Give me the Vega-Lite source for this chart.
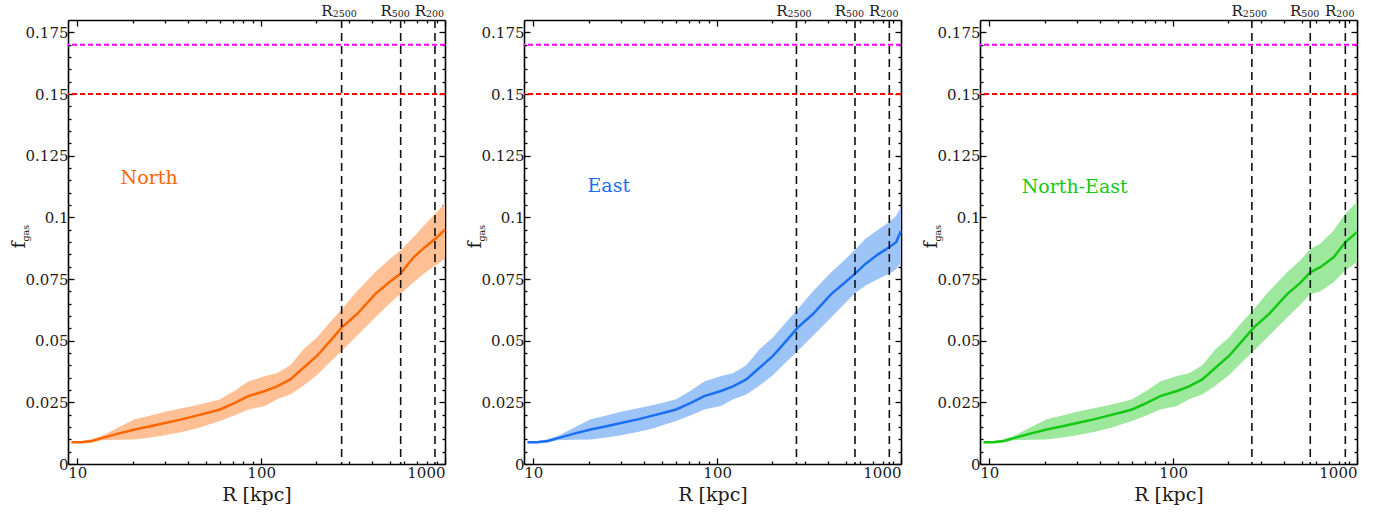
{
  "$schema": "https://vega.github.io/schema/vega-lite/v6.json",
  "padding": {"left": 10, "top": 4, "right": 5, "bottom": 5},
  "autosize": {"type": "pad"},
  "background": "white",
  "datasets": {
    "north": [
      {"R": 9.3, "f": 0.0088, "lo": 0.0084, "hi": 0.0092},
      {"R": 10.5, "f": 0.0088, "lo": 0.0084, "hi": 0.0093},
      {"R": 12.0, "f": 0.0093, "lo": 0.0087, "hi": 0.0100},
      {"R": 13.6, "f": 0.0105, "lo": 0.0096, "hi": 0.0114},
      {"R": 16.5, "f": 0.0122, "lo": 0.0098, "hi": 0.0146},
      {"R": 20.5, "f": 0.0140, "lo": 0.0099, "hi": 0.0181},
      {"R": 25, "f": 0.0153, "lo": 0.0107, "hi": 0.0197},
      {"R": 30, "f": 0.0166, "lo": 0.0117, "hi": 0.0212},
      {"R": 37, "f": 0.0181, "lo": 0.0130, "hi": 0.0226},
      {"R": 45.6, "f": 0.0198, "lo": 0.0146, "hi": 0.0240},
      {"R": 52, "f": 0.0209, "lo": 0.0160, "hi": 0.0250},
      {"R": 59.8, "f": 0.0221, "lo": 0.0174, "hi": 0.0262},
      {"R": 72, "f": 0.0248, "lo": 0.0198, "hi": 0.0298},
      {"R": 85, "f": 0.0275, "lo": 0.0221, "hi": 0.0334},
      {"R": 105, "f": 0.0296, "lo": 0.0235, "hi": 0.0357},
      {"R": 122, "f": 0.0315, "lo": 0.0262, "hi": 0.0368},
      {"R": 144, "f": 0.0343, "lo": 0.0282, "hi": 0.0400},
      {"R": 170, "f": 0.0390, "lo": 0.0318, "hi": 0.0465},
      {"R": 201, "f": 0.0438, "lo": 0.0360, "hi": 0.0513},
      {"R": 235, "f": 0.0495, "lo": 0.0410, "hi": 0.0572},
      {"R": 275, "f": 0.0554, "lo": 0.0459, "hi": 0.0628},
      {"R": 332, "f": 0.0608, "lo": 0.0520, "hi": 0.0700},
      {"R": 417, "f": 0.0689, "lo": 0.0594, "hi": 0.0777},
      {"R": 490, "f": 0.0733, "lo": 0.0645, "hi": 0.0825},
      {"R": 571, "f": 0.0771, "lo": 0.0689, "hi": 0.0866},
      {"R": 675, "f": 0.0838, "lo": 0.0737, "hi": 0.0920},
      {"R": 780, "f": 0.0880, "lo": 0.0775, "hi": 0.0972},
      {"R": 885, "f": 0.0913, "lo": 0.0805, "hi": 0.1015},
      {"R": 1000, "f": 0.0950, "lo": 0.0832, "hi": 0.1058}
    ],
    "east": [
      {"R": 9.3, "f": 0.0088, "lo": 0.0084, "hi": 0.0092},
      {"R": 10.5, "f": 0.0088, "lo": 0.0084, "hi": 0.0093},
      {"R": 12.0, "f": 0.0093, "lo": 0.0087, "hi": 0.0100},
      {"R": 13.6, "f": 0.0105, "lo": 0.0096, "hi": 0.0114},
      {"R": 16.5, "f": 0.0122, "lo": 0.0098, "hi": 0.0146},
      {"R": 20.5, "f": 0.0140, "lo": 0.0099, "hi": 0.0181},
      {"R": 25, "f": 0.0153, "lo": 0.0107, "hi": 0.0197},
      {"R": 30, "f": 0.0166, "lo": 0.0117, "hi": 0.0212},
      {"R": 37, "f": 0.0181, "lo": 0.0130, "hi": 0.0226},
      {"R": 45.6, "f": 0.0198, "lo": 0.0146, "hi": 0.0240},
      {"R": 52, "f": 0.0209, "lo": 0.0160, "hi": 0.0250},
      {"R": 59.8, "f": 0.0221, "lo": 0.0174, "hi": 0.0262},
      {"R": 72, "f": 0.0248, "lo": 0.0198, "hi": 0.0298},
      {"R": 85, "f": 0.0275, "lo": 0.0221, "hi": 0.0334},
      {"R": 105, "f": 0.0296, "lo": 0.0235, "hi": 0.0357},
      {"R": 122, "f": 0.0315, "lo": 0.0262, "hi": 0.0368},
      {"R": 144, "f": 0.0343, "lo": 0.0282, "hi": 0.0400},
      {"R": 170, "f": 0.0390, "lo": 0.0318, "hi": 0.0465},
      {"R": 201, "f": 0.0438, "lo": 0.0360, "hi": 0.0513},
      {"R": 235, "f": 0.0495, "lo": 0.0410, "hi": 0.0572},
      {"R": 275, "f": 0.0554, "lo": 0.0459, "hi": 0.0628},
      {"R": 332, "f": 0.0608, "lo": 0.0520, "hi": 0.0700},
      {"R": 417, "f": 0.0689, "lo": 0.0594, "hi": 0.0777},
      {"R": 490, "f": 0.0733, "lo": 0.0648, "hi": 0.0825},
      {"R": 561, "f": 0.0771, "lo": 0.0692, "hi": 0.0868},
      {"R": 640, "f": 0.0811, "lo": 0.0723, "hi": 0.0913},
      {"R": 750, "f": 0.0850, "lo": 0.0750, "hi": 0.0950},
      {"R": 863, "f": 0.0879, "lo": 0.0771, "hi": 0.0981},
      {"R": 940, "f": 0.0899, "lo": 0.0790, "hi": 0.1005},
      {"R": 1000, "f": 0.0945, "lo": 0.0818, "hi": 0.1042}
    ],
    "northeast": [
      {"R": 9.3, "f": 0.0088, "lo": 0.0084, "hi": 0.0092},
      {"R": 10.5, "f": 0.0088, "lo": 0.0084, "hi": 0.0093},
      {"R": 12.0, "f": 0.0093, "lo": 0.0087, "hi": 0.0100},
      {"R": 13.6, "f": 0.0105, "lo": 0.0096, "hi": 0.0114},
      {"R": 16.5, "f": 0.0122, "lo": 0.0098, "hi": 0.0146},
      {"R": 20.5, "f": 0.0140, "lo": 0.0099, "hi": 0.0181},
      {"R": 25, "f": 0.0153, "lo": 0.0107, "hi": 0.0197},
      {"R": 30, "f": 0.0166, "lo": 0.0117, "hi": 0.0212},
      {"R": 37, "f": 0.0181, "lo": 0.0130, "hi": 0.0226},
      {"R": 45.6, "f": 0.0198, "lo": 0.0146, "hi": 0.0240},
      {"R": 52, "f": 0.0209, "lo": 0.0160, "hi": 0.0250},
      {"R": 59.8, "f": 0.0221, "lo": 0.0174, "hi": 0.0262},
      {"R": 72, "f": 0.0248, "lo": 0.0198, "hi": 0.0298},
      {"R": 85, "f": 0.0275, "lo": 0.0221, "hi": 0.0334},
      {"R": 105, "f": 0.0296, "lo": 0.0235, "hi": 0.0357},
      {"R": 122, "f": 0.0315, "lo": 0.0262, "hi": 0.0368},
      {"R": 144, "f": 0.0343, "lo": 0.0282, "hi": 0.0400},
      {"R": 170, "f": 0.0390, "lo": 0.0318, "hi": 0.0465},
      {"R": 201, "f": 0.0438, "lo": 0.0360, "hi": 0.0513},
      {"R": 235, "f": 0.0495, "lo": 0.0410, "hi": 0.0572},
      {"R": 275, "f": 0.0554, "lo": 0.0459, "hi": 0.0628},
      {"R": 332, "f": 0.0608, "lo": 0.0520, "hi": 0.0700},
      {"R": 417, "f": 0.0689, "lo": 0.0594, "hi": 0.0777},
      {"R": 490, "f": 0.0733, "lo": 0.0645, "hi": 0.0825},
      {"R": 557, "f": 0.0777, "lo": 0.0689, "hi": 0.0872},
      {"R": 631, "f": 0.0798, "lo": 0.0699, "hi": 0.0893},
      {"R": 746, "f": 0.0838, "lo": 0.0737, "hi": 0.0947},
      {"R": 863, "f": 0.0899, "lo": 0.0784, "hi": 0.1015},
      {"R": 1000, "f": 0.0940, "lo": 0.0818, "hi": 0.1062}
    ],
    "baryon": [
      {"fb": 0.17, "ref": "universal"},
      {"fb": 0.15, "ref": "cluster"}
    ],
    "radii_north": [
      {"R": 274, "sub": "2500"},
      {"R": 574, "sub": "500"},
      {"R": 882, "sub": "200"}
    ],
    "radii_east": [
      {"R": 270, "sub": "2500"},
      {"R": 562, "sub": "500"},
      {"R": 864, "sub": "200"}
    ],
    "radii_northeast": [
      {"R": 268, "sub": "2500"},
      {"R": 557, "sub": "500"},
      {"R": 864, "sub": "200"}
    ]
  },
  "config": {
    "view": {"stroke": null},
    "axis": {
      "grid": false,
      "domainColor": "#000000",
      "domainWidth": 1.6,
      "tickColor": "#000000",
      "tickWidth": 1.3,
      "labelFont": "DejaVu Serif",
      "labelFontSize": 15,
      "labelColor": "#1a1a1a",
      "titleFont": "DejaVu Serif",
      "titleFontSize": 19,
      "titleFontWeight": "normal",
      "titleColor": "#1a1a1a"
    },
    "text": {"font": "DejaVu Serif", "color": "#1a1a1a"}
  },
  "bounds": "flush",
  "spacing": 79,
  "hconcat": [
    {
      "width": 377,
      "height": 444,
      "resolve": {"axis": {"x": "independent", "y": "independent"}},
      "layer": [
        {
          "data": {"name": "north"},
          "mark": {"type": "area", "color": "#ffc096", "opacity": 1},
          "encoding": {
            "x": {"field": "R", "type": "quantitative", "scale": {"type": "log", "domain": [8.9, 1000], "nice": false},
              "axis": {"orient": "bottom", "values": [10,20,30,40,50,60,70,80,90,100,200,300,400,500,600,700,800,900,1000],
                "labelExpr": "datum.value == 10 || datum.value == 100 || datum.value == 1000 ? format(datum.value, 'd') : ''",
                "tickSize": {"condition": {"test": "datum.value == 10 || datum.value == 100 || datum.value == 1000", "value": -6}, "value": -3},
                "labelOverlap": false, "labelFlush": true, "labelPadding": 7, "title": "R [kpc]", "titlePadding": 2}},
            "y": {"field": "lo", "type": "quantitative", "scale": {"domain": [0, 0.18], "nice": false, "zero": true},
              "axis": {"orient": "left", "values": [0,0.005,0.01,0.015,0.02,0.025,0.03,0.035,0.04,0.045,0.05,0.055,0.06,0.065,0.07,0.075,0.08,0.085,0.09,0.095,0.1,0.105,0.11,0.115,0.12,0.125,0.13,0.135,0.14,0.145,0.15,0.155,0.16,0.165,0.17,0.175],
                "labelExpr": "abs(datum.value * 40 - round(datum.value * 40)) < 0.001 ? format(datum.value, '.3~f') : ''",
                "tickSize": {"condition": {"test": "abs(datum.value * 40 - round(datum.value * 40)) < 0.001", "value": -6}, "value": -3},
                "labelOverlap": false, "labelPadding": 6, "title": null}},
            "y2": {"field": "hi"}
          }
        },
        {
          "data": {"name": "north"},
          "mark": {"type": "line", "color": "#ff6600", "strokeWidth": 2.5},
          "encoding": {
            "x": {"field": "R", "type": "quantitative", "scale": {"type": "log", "domain": [8.9, 1000], "nice": false},
              "axis": {"orient": "top", "values": [10,20,30,40,50,60,70,80,90,100,200,300,400,500,600,700,800,900,1000],
                "labels": false,
                "tickSize": {"condition": {"test": "datum.value == 10 || datum.value == 100 || datum.value == 1000", "value": -6}, "value": -3},
                "title": null}},
            "y": {"field": "f", "type": "quantitative", "scale": {"domain": [0, 0.18], "nice": false, "zero": true},
              "axis": {"orient": "right", "values": [0,0.005,0.01,0.015,0.02,0.025,0.03,0.035,0.04,0.045,0.05,0.055,0.06,0.065,0.07,0.075,0.08,0.085,0.09,0.095,0.1,0.105,0.11,0.115,0.12,0.125,0.13,0.135,0.14,0.145,0.15,0.155,0.16,0.165,0.17,0.175],
                "labels": false,
                "tickSize": {"condition": {"test": "abs(datum.value * 40 - round(datum.value * 40)) < 0.001", "value": -6}, "value": -3},
                "title": null}}
          }
        },
        {
          "data": {"name": "baryon"},
          "mark": {"type": "rule", "strokeWidth": 2, "strokeDash": [5, 3]},
          "encoding": {
            "y": {"field": "fb", "type": "quantitative", "axis": null},
            "color": {"field": "ref", "type": "nominal", "scale": {"domain": ["universal", "cluster"], "range": ["#ff00ff", "#ff0000"]}, "legend": null}
          }
        },
        {
          "data": {"name": "radii_north"},
          "mark": {"type": "rule", "color": "#111111", "strokeWidth": 1.6, "strokeDash": [8, 5]},
          "encoding": {"x": {"field": "R", "type": "quantitative", "axis": null}}
        },
        {
          "data": {"name": "radii_north"},
          "mark": {"type": "text", "text": "R", "fontSize": 15, "align": "right", "baseline": "alphabetic", "dx": -9, "dy": -4},
          "encoding": {"x": {"field": "R", "type": "quantitative", "axis": null}, "y": {"datum": 0.18, "axis": null}}
        },
        {
          "data": {"name": "radii_north"},
          "mark": {"type": "text", "fontSize": 9.5, "align": "left", "baseline": "alphabetic", "dx": -9, "dy": -3},
          "encoding": {"text": {"field": "sub"}, "x": {"field": "R", "type": "quantitative", "axis": null}, "y": {"datum": 0.18, "axis": null}}
        },
        {
          "data": {"values": [{"dir": "North"}]},
          "mark": {"type": "text", "fontSize": 19, "align": "left", "baseline": "alphabetic", "color": "#ff6600"},
          "encoding": {"text": {"field": "dir"}, "x": {"datum": 17.2, "axis": null}, "y": {"datum": 0.1134, "axis": null}}
        },
        {
          "data": {"values": [{"sym": "f", "sub": "gas"}]},
          "mark": {"type": "text", "fontSize": 19, "angle": 270, "align": "right", "baseline": "alphabetic", "dy": -43},
          "encoding": {"text": {"field": "sym"}, "x": {"datum": 8.9, "axis": null}, "y": {"datum": 0.0902, "axis": null}}
        },
        {
          "data": {"values": [{"sym": "f", "sub": "gas"}]},
          "mark": {"type": "text", "fontSize": 9.5, "angle": 270, "align": "left", "baseline": "alphabetic", "dy": -39},
          "encoding": {"text": {"field": "sub"}, "x": {"datum": 8.9, "axis": null}, "y": {"datum": 0.0902, "axis": null}}
        }
      ]
    },
    {
      "width": 377,
      "height": 444,
      "resolve": {"axis": {"x": "independent", "y": "independent"}},
      "layer": [
        {
          "data": {"name": "east"},
          "mark": {"type": "area", "color": "#9dc4f7", "opacity": 1},
          "encoding": {
            "x": {"field": "R", "type": "quantitative", "scale": {"type": "log", "domain": [8.9, 1000], "nice": false},
              "axis": {"orient": "bottom", "values": [10,20,30,40,50,60,70,80,90,100,200,300,400,500,600,700,800,900,1000],
                "labelExpr": "datum.value == 10 || datum.value == 100 || datum.value == 1000 ? format(datum.value, 'd') : ''",
                "tickSize": {"condition": {"test": "datum.value == 10 || datum.value == 100 || datum.value == 1000", "value": -6}, "value": -3},
                "labelOverlap": false, "labelFlush": true, "labelPadding": 7, "title": "R [kpc]", "titlePadding": 2}},
            "y": {"field": "lo", "type": "quantitative", "scale": {"domain": [0, 0.18], "nice": false, "zero": true},
              "axis": {"orient": "left", "values": [0,0.005,0.01,0.015,0.02,0.025,0.03,0.035,0.04,0.045,0.05,0.055,0.06,0.065,0.07,0.075,0.08,0.085,0.09,0.095,0.1,0.105,0.11,0.115,0.12,0.125,0.13,0.135,0.14,0.145,0.15,0.155,0.16,0.165,0.17,0.175],
                "labelExpr": "abs(datum.value * 40 - round(datum.value * 40)) < 0.001 ? format(datum.value, '.3~f') : ''",
                "tickSize": {"condition": {"test": "abs(datum.value * 40 - round(datum.value * 40)) < 0.001", "value": -6}, "value": -3},
                "labelOverlap": false, "labelPadding": 6, "title": null}},
            "y2": {"field": "hi"}
          }
        },
        {
          "data": {"name": "east"},
          "mark": {"type": "line", "color": "#1a6ff2", "strokeWidth": 2.5},
          "encoding": {
            "x": {"field": "R", "type": "quantitative", "scale": {"type": "log", "domain": [8.9, 1000], "nice": false},
              "axis": {"orient": "top", "values": [10,20,30,40,50,60,70,80,90,100,200,300,400,500,600,700,800,900,1000],
                "labels": false,
                "tickSize": {"condition": {"test": "datum.value == 10 || datum.value == 100 || datum.value == 1000", "value": -6}, "value": -3},
                "title": null}},
            "y": {"field": "f", "type": "quantitative", "scale": {"domain": [0, 0.18], "nice": false, "zero": true},
              "axis": {"orient": "right", "values": [0,0.005,0.01,0.015,0.02,0.025,0.03,0.035,0.04,0.045,0.05,0.055,0.06,0.065,0.07,0.075,0.08,0.085,0.09,0.095,0.1,0.105,0.11,0.115,0.12,0.125,0.13,0.135,0.14,0.145,0.15,0.155,0.16,0.165,0.17,0.175],
                "labels": false,
                "tickSize": {"condition": {"test": "abs(datum.value * 40 - round(datum.value * 40)) < 0.001", "value": -6}, "value": -3},
                "title": null}}
          }
        },
        {
          "data": {"name": "baryon"},
          "mark": {"type": "rule", "strokeWidth": 2, "strokeDash": [5, 3]},
          "encoding": {
            "y": {"field": "fb", "type": "quantitative", "axis": null},
            "color": {"field": "ref", "type": "nominal", "scale": {"domain": ["universal", "cluster"], "range": ["#ff00ff", "#ff0000"]}, "legend": null}
          }
        },
        {
          "data": {"name": "radii_east"},
          "mark": {"type": "rule", "color": "#111111", "strokeWidth": 1.6, "strokeDash": [8, 5]},
          "encoding": {"x": {"field": "R", "type": "quantitative", "axis": null}}
        },
        {
          "data": {"name": "radii_east"},
          "mark": {"type": "text", "text": "R", "fontSize": 15, "align": "right", "baseline": "alphabetic", "dx": -9, "dy": -4},
          "encoding": {"x": {"field": "R", "type": "quantitative", "axis": null}, "y": {"datum": 0.18, "axis": null}}
        },
        {
          "data": {"name": "radii_east"},
          "mark": {"type": "text", "fontSize": 9.5, "align": "left", "baseline": "alphabetic", "dx": -9, "dy": -3},
          "encoding": {"text": {"field": "sub"}, "x": {"field": "R", "type": "quantitative", "axis": null}, "y": {"datum": 0.18, "axis": null}}
        },
        {
          "data": {"values": [{"dir": "East"}]},
          "mark": {"type": "text", "fontSize": 19, "align": "left", "baseline": "alphabetic", "color": "#1a6ff2"},
          "encoding": {"text": {"field": "dir"}, "x": {"datum": 19.7, "axis": null}, "y": {"datum": 0.1103, "axis": null}}
        },
        {
          "data": {"values": [{"sym": "f", "sub": "gas"}]},
          "mark": {"type": "text", "fontSize": 19, "angle": 270, "align": "right", "baseline": "alphabetic", "dy": -43},
          "encoding": {"text": {"field": "sym"}, "x": {"datum": 8.9, "axis": null}, "y": {"datum": 0.0902, "axis": null}}
        },
        {
          "data": {"values": [{"sym": "f", "sub": "gas"}]},
          "mark": {"type": "text", "fontSize": 9.5, "angle": 270, "align": "left", "baseline": "alphabetic", "dy": -39},
          "encoding": {"text": {"field": "sub"}, "x": {"datum": 8.9, "axis": null}, "y": {"datum": 0.0902, "axis": null}}
        }
      ]
    },
    {
      "width": 377,
      "height": 444,
      "resolve": {"axis": {"x": "independent", "y": "independent"}},
      "layer": [
        {
          "data": {"name": "northeast"},
          "mark": {"type": "area", "color": "#9de89d", "opacity": 1},
          "encoding": {
            "x": {"field": "R", "type": "quantitative", "scale": {"type": "log", "domain": [8.9, 1000], "nice": false},
              "axis": {"orient": "bottom", "values": [10,20,30,40,50,60,70,80,90,100,200,300,400,500,600,700,800,900,1000],
                "labelExpr": "datum.value == 10 || datum.value == 100 || datum.value == 1000 ? format(datum.value, 'd') : ''",
                "tickSize": {"condition": {"test": "datum.value == 10 || datum.value == 100 || datum.value == 1000", "value": -6}, "value": -3},
                "labelOverlap": false, "labelFlush": true, "labelPadding": 7, "title": "R [kpc]", "titlePadding": 2}},
            "y": {"field": "lo", "type": "quantitative", "scale": {"domain": [0, 0.18], "nice": false, "zero": true},
              "axis": {"orient": "left", "values": [0,0.005,0.01,0.015,0.02,0.025,0.03,0.035,0.04,0.045,0.05,0.055,0.06,0.065,0.07,0.075,0.08,0.085,0.09,0.095,0.1,0.105,0.11,0.115,0.12,0.125,0.13,0.135,0.14,0.145,0.15,0.155,0.16,0.165,0.17,0.175],
                "labelExpr": "abs(datum.value * 40 - round(datum.value * 40)) < 0.001 ? format(datum.value, '.3~f') : ''",
                "tickSize": {"condition": {"test": "abs(datum.value * 40 - round(datum.value * 40)) < 0.001", "value": -6}, "value": -3},
                "labelOverlap": false, "labelPadding": 6, "title": null}},
            "y2": {"field": "hi"}
          }
        },
        {
          "data": {"name": "northeast"},
          "mark": {"type": "line", "color": "#14c814", "strokeWidth": 2.5},
          "encoding": {
            "x": {"field": "R", "type": "quantitative", "scale": {"type": "log", "domain": [8.9, 1000], "nice": false},
              "axis": {"orient": "top", "values": [10,20,30,40,50,60,70,80,90,100,200,300,400,500,600,700,800,900,1000],
                "labels": false,
                "tickSize": {"condition": {"test": "datum.value == 10 || datum.value == 100 || datum.value == 1000", "value": -6}, "value": -3},
                "title": null}},
            "y": {"field": "f", "type": "quantitative", "scale": {"domain": [0, 0.18], "nice": false, "zero": true},
              "axis": {"orient": "right", "values": [0,0.005,0.01,0.015,0.02,0.025,0.03,0.035,0.04,0.045,0.05,0.055,0.06,0.065,0.07,0.075,0.08,0.085,0.09,0.095,0.1,0.105,0.11,0.115,0.12,0.125,0.13,0.135,0.14,0.145,0.15,0.155,0.16,0.165,0.17,0.175],
                "labels": false,
                "tickSize": {"condition": {"test": "abs(datum.value * 40 - round(datum.value * 40)) < 0.001", "value": -6}, "value": -3},
                "title": null}}
          }
        },
        {
          "data": {"name": "baryon"},
          "mark": {"type": "rule", "strokeWidth": 2, "strokeDash": [5, 3]},
          "encoding": {
            "y": {"field": "fb", "type": "quantitative", "axis": null},
            "color": {"field": "ref", "type": "nominal", "scale": {"domain": ["universal", "cluster"], "range": ["#ff00ff", "#ff0000"]}, "legend": null}
          }
        },
        {
          "data": {"name": "radii_northeast"},
          "mark": {"type": "rule", "color": "#111111", "strokeWidth": 1.6, "strokeDash": [8, 5]},
          "encoding": {"x": {"field": "R", "type": "quantitative", "axis": null}}
        },
        {
          "data": {"name": "radii_northeast"},
          "mark": {"type": "text", "text": "R", "fontSize": 15, "align": "right", "baseline": "alphabetic", "dx": -9, "dy": -4},
          "encoding": {"x": {"field": "R", "type": "quantitative", "axis": null}, "y": {"datum": 0.18, "axis": null}}
        },
        {
          "data": {"name": "radii_northeast"},
          "mark": {"type": "text", "fontSize": 9.5, "align": "left", "baseline": "alphabetic", "dx": -9, "dy": -3},
          "encoding": {"text": {"field": "sub"}, "x": {"field": "R", "type": "quantitative", "axis": null}, "y": {"datum": 0.18, "axis": null}}
        },
        {
          "data": {"values": [{"dir": "North-East"}]},
          "mark": {"type": "text", "fontSize": 19, "align": "left", "baseline": "alphabetic", "color": "#14c814"},
          "encoding": {"text": {"field": "dir"}, "x": {"datum": 15.0, "axis": null}, "y": {"datum": 0.1099, "axis": null}}
        },
        {
          "data": {"values": [{"sym": "f", "sub": "gas"}]},
          "mark": {"type": "text", "fontSize": 19, "angle": 270, "align": "right", "baseline": "alphabetic", "dy": -43},
          "encoding": {"text": {"field": "sym"}, "x": {"datum": 8.9, "axis": null}, "y": {"datum": 0.0902, "axis": null}}
        },
        {
          "data": {"values": [{"sym": "f", "sub": "gas"}]},
          "mark": {"type": "text", "fontSize": 9.5, "angle": 270, "align": "left", "baseline": "alphabetic", "dy": -39},
          "encoding": {"text": {"field": "sub"}, "x": {"datum": 8.9, "axis": null}, "y": {"datum": 0.0902, "axis": null}}
        }
      ]
    }
  ]
}
